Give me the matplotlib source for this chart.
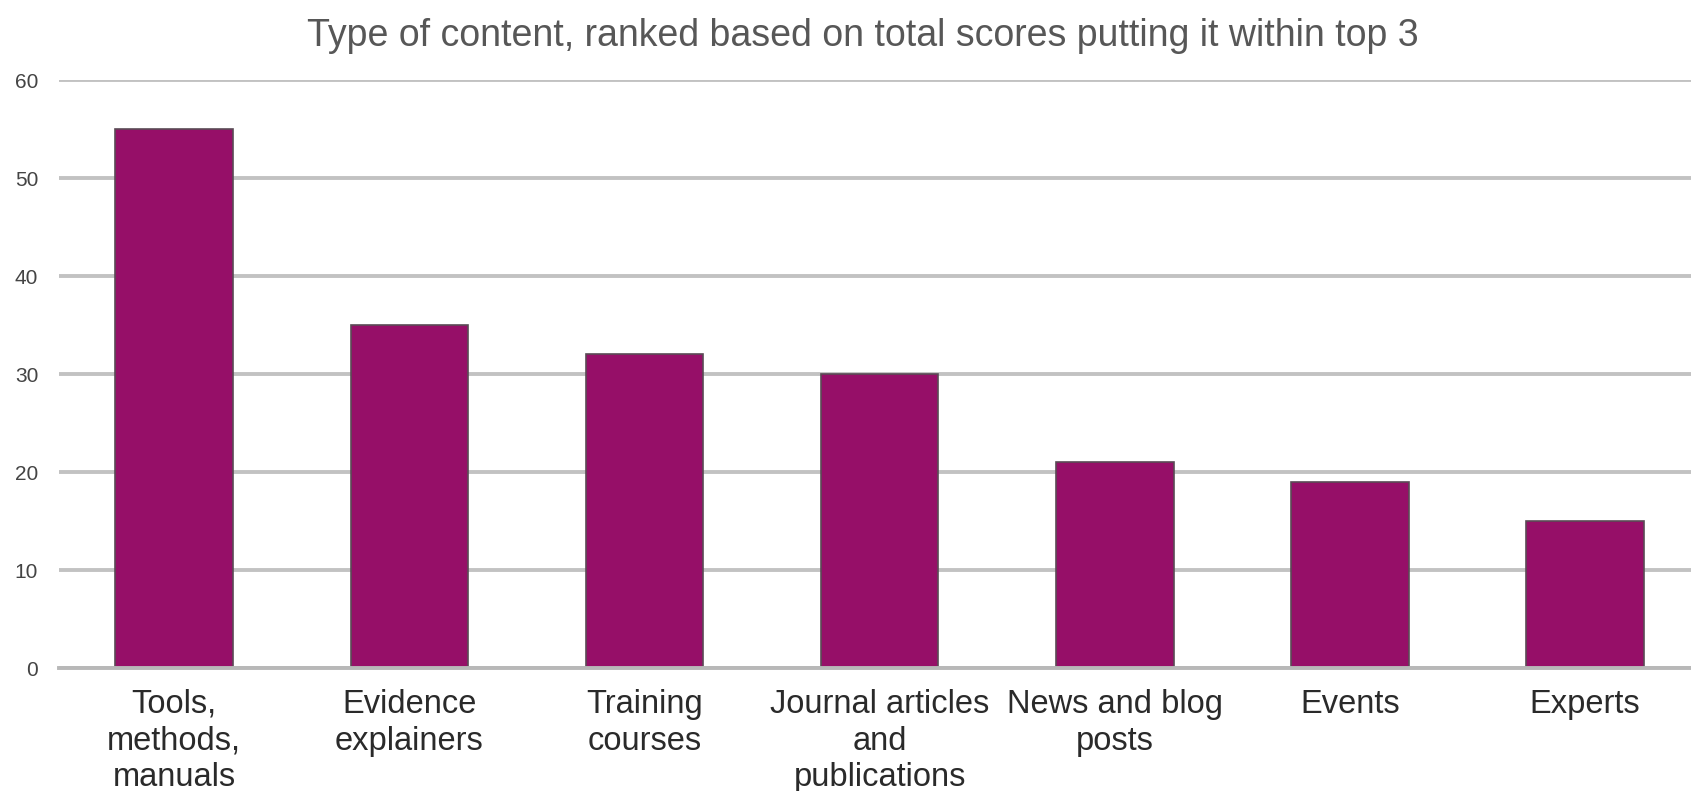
import matplotlib
matplotlib.use('Agg')
import matplotlib.pyplot as plt

plt.rcParams['font.family'] = ['Liberation Sans', 'DejaVu Sans']

categories = ['Tools,\nmethods,\nmanuals', 'Evidence\nexplainers', 'Training\ncourses',
              'Journal articles\nand\npublications', 'News and blog\nposts', 'Events', 'Experts']
scores = [55, 35, 32, 30, 21, 19, 15]
y_ticks = [0, 10, 20, 30, 40, 50, 60]

fig = plt.figure(figsize=(16.91, 7.91), dpi=100)
ax = fig.add_axes([59 / 1691, 1 - 668 / 791, 1 - 59 / 1691, (668 - 80) / 791])

x = range(len(categories))
ax.bar(x, scores, width=0.5, color='#960f68', edgecolor='#5a4a55', linewidth=1.2, zorder=3)

ax.set_xlim(-0.49, 6.45)
ax.set_ylim(0, 60)
ax.set_yticks(y_ticks)
ax.set_yticklabels([str(t) for t in y_ticks], fontsize=15, color='#444444')
ax.set_xticks(list(x))
ax.set_xticklabels(categories, fontsize=23.5, color='#2a2a2a', linespacing=1.24)
ax.tick_params(axis='both', length=0)
ax.tick_params(axis='x', pad=15)
ax.tick_params(axis='y', pad=15)

ax.grid(axis='y', color='#c2c2c2', linewidth=2.8, zorder=0)
for side in ['top', 'right', 'left']:
    ax.spines[side].set_visible(False)
ax.spines['bottom'].set_color('#b8b8b8')
ax.spines['bottom'].set_linewidth(2.8)
ax.spines['bottom'].set_zorder(4)

fig.text(0.51, 1 - 36 / 791, 'Type of content, ranked based on total scores putting it within top 3',
         ha='center', va='center', fontsize=27, color='#575757')

fig.savefig('out.png', dpi=100)
